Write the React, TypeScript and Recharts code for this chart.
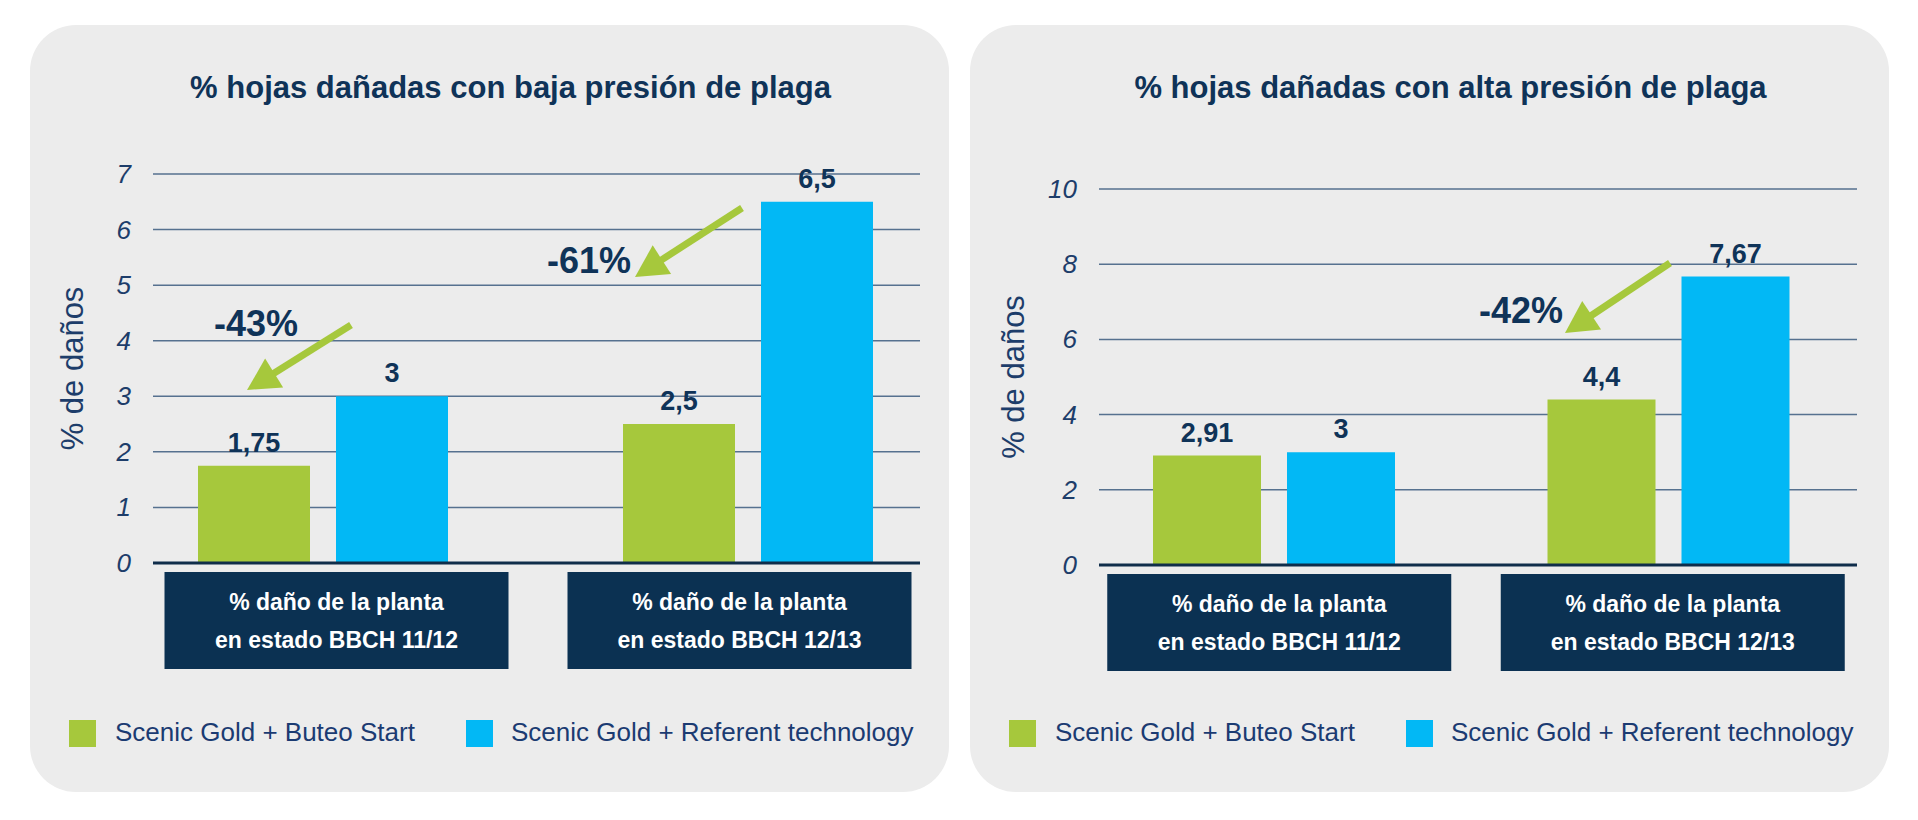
import React from 'react';
import { BarChart, Bar, XAxis, YAxis, CartesianGrid, LabelList, Label } from 'recharts';

document.body.style.margin = '0';

const categories = ['% daño de la planta|en estado BBCH 11/12', '% daño de la planta|en estado BBCH 12/13'];
const seriesNames = ['Scenic Gold + Buteo Start', 'Scenic Gold + Referent technology'];
const lowGreen = [1.75, 2.5];
const lowBlue = [3, 6.5];
const highGreen = [2.91, 4.4];
const highBlue = [3, 7.67];
const lowTicks = [0, 1, 2, 3, 4, 5, 6, 7];
const highTicks = [0, 2, 4, 6, 8, 10];

const NAVY = '#0f3358';
const GREEN = '#a6c83c';
const BLUE = '#02b8f5';
const FONT = '"Liberation Sans", Arial, sans-serif';

const comma = (v: number) => String(v).replace('.', ',');

function CategoryBox(props: any) {
  const { x, y, payload, shift } = props;
  const lines = String(payload.value).split('|');
  const cx = x + (shift ? shift[payload.index] : 0);
  return (
    <g>
      <rect x={cx - 172} y={y + 9} width={344} height={97} fill="#0b3152" />
      {lines.map((l, i) => (
        <text key={i} x={cx} y={y + 47 + i * 38} textAnchor="middle" fill="#fff" fontSize={23} fontWeight={700} fontFamily={FONT}>
          {l}
        </text>
      ))}
    </g>
  );
}

function YTick(props: any) {
  const { x, y, payload } = props;
  return (
    <text x={x} y={y} dy={9} textAnchor="end" fill="#1d3d6a" fontSize={26} fontStyle="italic" fontFamily={FONT}>
      {payload.value}
    </text>
  );
}

function ValueLabel(props: any) {
  const { x, y, width, value } = props;
  return (
    <text x={x + width / 2} y={y - 14} textAnchor="middle" fill={NAVY} fontSize={27} fontWeight={700} fontFamily={FONT}>
      {comma(value)}
    </text>
  );
}

function Arrow({ x1, y1, x2, y2 }: { x1: number; y1: number; x2: number; y2: number }) {
  const dx = x2 - x1;
  const dy = y2 - y1;
  const len = Math.hypot(dx, dy);
  const ux = dx / len;
  const uy = dy / len;
  const head = 32;
  const half = 17;
  const bx = x2 - ux * head;
  const by = y2 - uy * head;
  return (
    <g>
      <line x1={x1} y1={y1} x2={bx + ux * 4} y2={by + uy * 4} stroke={GREEN} strokeWidth={7} />
      <polygon points={`${x2},${y2} ${bx - uy * half},${by + ux * half} ${bx + uy * half},${by - ux * half}`} fill={GREEN} />
    </g>
  );
}

interface PanelProps {
  left: number;
  title: string;
  green: number[];
  blue: number[];
  ticks: number[];
  margin: { top: number; right: number; bottom: number; left: number };
  padding: { left: number; right: number };
  barSize: number;
  labelDx: number;
  boxShift: number[];
}

function Panel({ left, title, green, blue, ticks, margin, padding, barSize, labelDx, boxShift }: PanelProps) {
  const data = categories.map((c, i) => ({ name: c, green: green[i], blue: blue[i] }));
  return (
    <div style={{ position: 'absolute', left, top: 25, width: 919, height: 767, background: '#ececec', borderRadius: 46 }}>
      <div style={{ position: 'absolute', left: 0, top: 45, width: 961, textAlign: 'center', color: NAVY, fontFamily: FONT, fontWeight: 700, fontSize: 31 }}>
        {title}
      </div>
      <div style={{ position: 'absolute', left: 0, top: 0 }}>
        <BarChart width={919} height={767} data={data} margin={margin} barSize={barSize} barGap={26}>
          <CartesianGrid vertical={false} stroke="#56718f" strokeWidth={1.5} />
          <XAxis
            dataKey="name"
            padding={padding}
            axisLine={{ stroke: '#0f2d4a', strokeWidth: 3 }}
            tickLine={false}
            tickSize={0}
            tickMargin={0}
            height={120}
            tick={<CategoryBox shift={boxShift} />}
            interval={0}
          />
          <YAxis
            domain={[0, ticks[ticks.length - 1]]}
            ticks={ticks}
            width={60}
            axisLine={false}
            tickLine={false}
            tickSize={0}
            tickMargin={22}
            tick={<YTick />}
          >
            <Label
              content={(p: any) => (
                <text
                  transform={`translate(${p.viewBox.x + labelDx}, ${p.viewBox.y + p.viewBox.height / 2}) rotate(-90)`}
                  textAnchor="middle"
                  dominantBaseline="central"
                  fill="#1d3d6a"
                  fontSize={31}
                  fontFamily={FONT}
                >
                  % de daños
                </text>
              )}
            />
          </YAxis>
          <Bar dataKey="green" fill={GREEN} isAnimationActive={false}>
            <LabelList dataKey="green" content={<ValueLabel />} />
          </Bar>
          <Bar dataKey="blue" fill={BLUE} isAnimationActive={false}>
            <LabelList dataKey="blue" content={<ValueLabel />} />
          </Bar>
        </BarChart>
      </div>
      <div style={{ position: 'absolute', top: 695, left: 39, width: 27, height: 27, background: GREEN }} />
      <div style={{ position: 'absolute', top: 692, left: 85, color: '#1b3b72', fontFamily: FONT, fontSize: 26, whiteSpace: 'nowrap' }}>
        {seriesNames[0]}
      </div>
      <div style={{ position: 'absolute', top: 695, left: 436, width: 27, height: 27, background: BLUE }} />
      <div style={{ position: 'absolute', top: 692, left: 481, color: '#1b3b72', fontFamily: FONT, fontSize: 26, whiteSpace: 'nowrap' }}>
        {seriesNames[1]}
      </div>
    </div>
  );
}

const reductions = ['-43%', '-61%', '-42%'];

export default function App() {
  return (
    <div style={{ position: 'relative', width: 1918, height: 820, background: '#fff', overflow: 'hidden' }}>
      <Panel
        left={30}
        title="% hojas dañadas con baja presión de plaga"
        green={lowGreen}
        blue={lowBlue}
        ticks={lowTicks}
        margin={{ top: 149, right: 29, bottom: 109, left: 63 }}
        padding={{ left: -43, right: -40 }}
        barSize={112}
        labelDx={-21}
        boxShift={[14, -8]}
      />
      <Panel
        left={970}
        title="% hojas dañadas con alta presión de plaga"
        green={highGreen}
        blue={highBlue}
        ticks={highTicks}
        margin={{ top: 164, right: 32, bottom: 107, left: 69 }}
        padding={{ left: -22, right: -9 }}
        barSize={108}
        labelDx={-26}
        boxShift={[5, 4]}
      />
      <svg width={1918} height={820} style={{ position: 'absolute', left: 0, top: 0, pointerEvents: 'none' }}>
        <Arrow x1={351} y1={325} x2={247} y2={390} />
        <Arrow x1={742} y1={208} x2={635} y2={277} />
        <Arrow x1={1670} y1={263} x2={1565} y2={333} />
        <g fill={NAVY} fontFamily={FONT} fontWeight={700} fontSize={36}>
          <text x={298} y={336} textAnchor="end">{reductions[0]}</text>
          <text x={631} y={273} textAnchor="end">{reductions[1]}</text>
          <text x={1563} y={323} textAnchor="end">{reductions[2]}</text>
        </g>
      </svg>
    </div>
  );
}
